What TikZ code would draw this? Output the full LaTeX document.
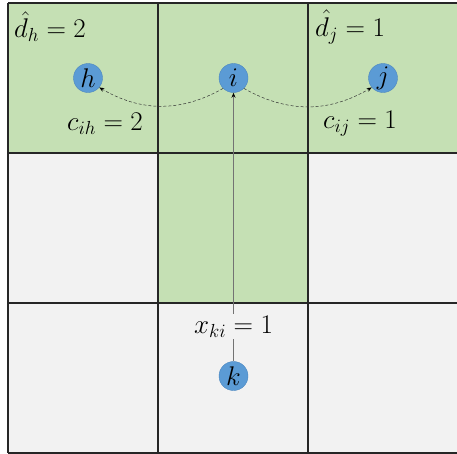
\documentclass[tikz,border=0pt]{standalone}
\usepackage{fix-cm}
\usetikzlibrary{arrows.meta}
\definecolor{cellgreen}{HTML}{C5E0B4}
\definecolor{cellgray}{HTML}{F2F2F2}
\definecolor{nodeblue}{HTML}{5B9BD5}
\definecolor{nodeedge}{HTML}{4A86C0}
\tikzset{
  cellbox/.style={draw=black!85, line width=1.1pt},
  vertex/.style={circle, fill=nodeblue, draw=nodeedge, line width=0.4pt, minimum size=29pt, inner sep=0pt, font=\fontsize{27}{30}\selectfont},
  lbl/.style={font=\fontsize{27}{30}\selectfont, inner sep=1pt},
  flowarrow/.style={draw=black!80, densely dashed, line width=0.5pt, -{Stealth[length=5pt,width=4pt,black]}},
  assignarrow/.style={draw=black!55, line width=0.7pt, -{Stealth[length=5pt,width=4pt,black]}}
}
\begin{document}
\begin{tikzpicture}[x=1pt,y=-1pt]
\useasboundingbox (0,0) rectangle (457,453);
% cells
\foreach \c in {0,1,2}{
  \foreach \r in {0,1,2}{
    \fill[cellgray] (8+150*\c,3+150*\r) rectangle (158+150*\c,153+150*\r);
  }
}
\fill[cellgreen] (8,3) rectangle (458,153);
\fill[cellgreen] (158,153) rectangle (308,303);
% grid lines
\foreach \c in {0,1,2,3}{ \draw[cellbox] (8+150*\c,3) -- (8+150*\c,453); }
\foreach \r in {0,1,2,3}{ \draw[cellbox] (8,3+150*\r) -- (458,3+150*\r); }
% nodes
\node[vertex] (h) at (88,78) {$h$};
\node[vertex] (i) at (233.5,78) {$i$};
\node[vertex] (j) at (383,78) {$j$};
\node[vertex] (k) at (233.5,376) {$k$};
% labels
\node[lbl, anchor=west] (dh) at (13,27) {$\hat{d}_h = 2$};
\node[lbl, anchor=west] (dj) at (314,27) {$\hat{d}_j = 1$};
\node[lbl] (cih) at (105,124) {$c_{ih} = 2$};
\node[lbl] (cij) at (360,124) {$c_{ij} = 1$};
% connectors
\draw[flowarrow] (i.225) to[bend left=30] (h.-40);
\draw[flowarrow] (i.-45) to[bend right=30] (j.220);
\draw[assignarrow] (k.north) -- node[lbl, fill=cellgray, inner sep=2pt, pos=0.13] (xki) {$x_{ki} = 1$} (i.south);
\end{tikzpicture}
\end{document}
